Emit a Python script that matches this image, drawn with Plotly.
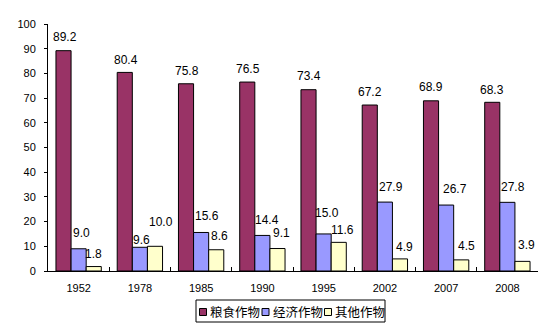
import plotly.graph_objects as go

years = ["1952", "1978", "1985", "1990", "1995", "2002", "2007", "2008"]
grain = [89.2, 80.4, 75.8, 76.5, 73.4, 67.2, 68.9, 68.3]
economic = [9.0, 9.6, 15.6, 14.4, 15.0, 27.9, 26.7, 27.8]
other = [1.8, 10.0, 8.6, 9.1, 11.6, 4.9, 4.5, 3.9]
names = ["粮食作物", "经济作物", "其他作物"]
colors = ["#993366", "#9999FF", "#FFFFCC"]

# label placement offsets (pixels) as in the reference
label_xshift = [
    [1, 1, 1, 1, 0, 0, 0, 0],
    [2.5, 1.5, 5.5, 4.5, 3, 6, 9, 5.5],
    [0, 6, 3, 4, 4, 4.5, 5.5, 4],
]
label_yshift = [
    [14, 12, 13, 13, 13.5, 13, 13.5, 12.5],
    [16, 7, 16.5, 15, 21, 15.5, 16, 15],
    [12.5, 24, 14, 15.5, 12, 12, 14, 16],
]

W, H = 551, 331
L, R, T, B = 48, 13, 24, 60
PW, PH = W - L - R, H - T - B
BARGAP = 0.26


def px(x):
    return (x - L) / PW


def py(y):
    return (H - B - y) / PH


fig = go.Figure()
series = [grain, economic, other]
for name, vals, col in zip(names, series, colors):
    fig.add_trace(go.Bar(
        x=years, y=vals, name=name,
        marker=dict(color=col, line=dict(color="black", width=1)),
        showlegend=False,
    ))

bw = (1 - BARGAP) / 3
annotations = []
for s, vals in enumerate(series):
    off = (s - 1) * bw
    for i, v in enumerate(vals):
        annotations.append(dict(
            x=i + off, y=v, xref="x", yref="y",
            text=f"{v:.1f}", showarrow=False,
            xanchor="center", yanchor="middle",
            xshift=label_xshift[s][i], yshift=label_yshift[s][i],
            font=dict(family="Liberation Sans, Arial", size=12, color="black"),
        ))

# manual legend
shapes = [dict(type="rect", xref="paper", yref="paper",
               x0=px(196), x1=px(385), y0=py(322), y1=py(300),
               line=dict(color="black", width=1), fillcolor="white")]
sq_x = [199.5, 262, 324.5]
for k, (name, col) in enumerate(zip(names, colors)):
    shapes.append(dict(type="rect", xref="paper", yref="paper",
                       x0=px(sq_x[k]), x1=px(sq_x[k] + 7),
                       y0=py(315.5), y1=py(308.5),
                       line=dict(color="black", width=1), fillcolor=col))
    annotations.append(dict(
        x=px(sq_x[k] + 8.5), y=py(311.5), xref="paper", yref="paper",
        text=name, showarrow=False, xanchor="left", yanchor="middle",
        font=dict(family="Noto Sans CJK SC", size=12.5, color="black"),
    ))

fig.update_layout(
    width=W, height=H,
    margin=dict(l=L, r=R, t=T, b=B),
    paper_bgcolor="white", plot_bgcolor="white",
    barmode="group", bargap=BARGAP, bargroupgap=0,
    font=dict(family="Liberation Sans, Arial", size=11, color="black"),
    showlegend=False,
    annotations=annotations,
    shapes=shapes,
)
fig.update_xaxes(
    type="category", showline=True, linecolor="black", linewidth=1,
    ticks="inside", ticklen=4, tickcolor="black", tickson="boundaries",
    showgrid=False, tickfont=dict(size=11), ticklabelstandoff=7,
    range=[-0.5, 7.5],
)
fig.update_yaxes(
    range=[0, 100], dtick=10, showline=True, linecolor="black", linewidth=1,
    ticks="outside", ticklen=3, tickcolor="black", showgrid=False, zeroline=False,
    tickfont=dict(size=11), ticklabelstandoff=6,
)

fig.write_html("out.html")
